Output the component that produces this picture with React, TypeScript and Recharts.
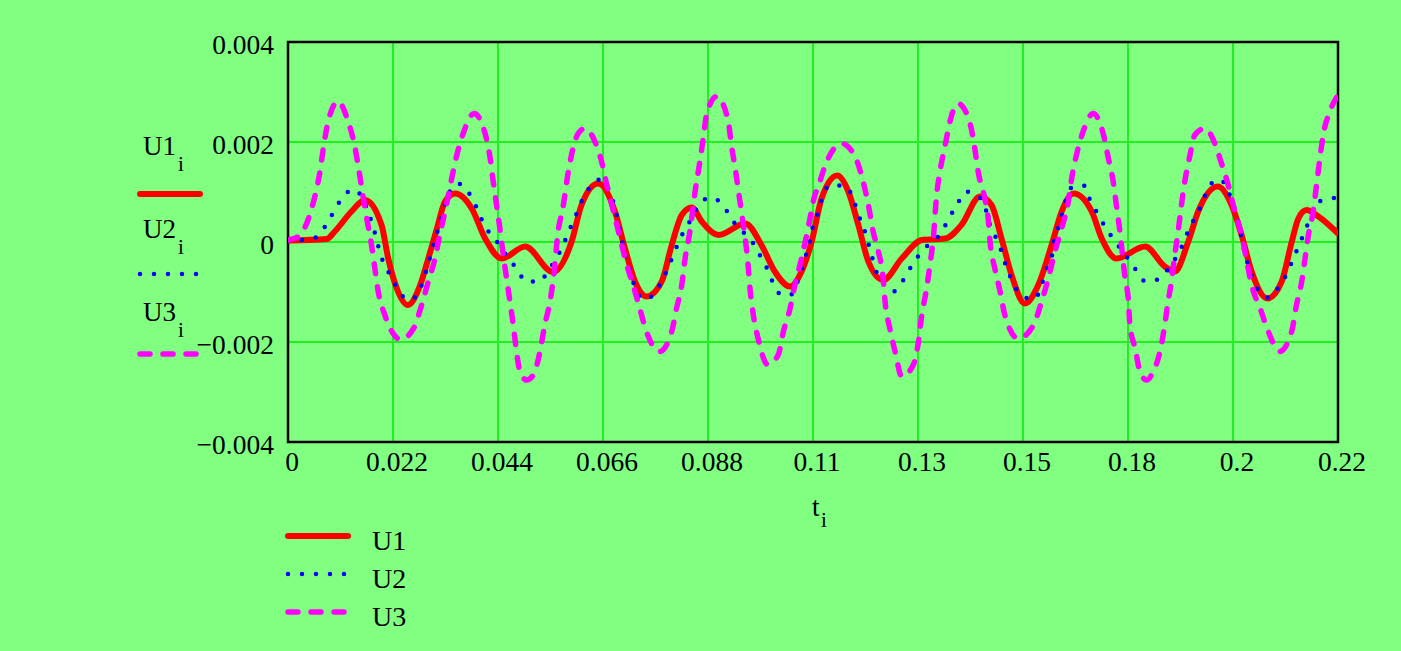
import React from 'react';
import { LineChart, Line, XAxis, YAxis, CartesianGrid, ReferenceArea } from 'recharts';

// time axis ticks and labels (as printed on the chart)
const X_TICKS = [0, 0.022, 0.044, 0.066, 0.088, 0.11, 0.132, 0.154, 0.176, 0.198, 0.22];
const X_TICK_LABELS = ['0', '0.022', '0.044', '0.066', '0.088', '0.11', '0.13', '0.15', '0.18', '0.2', '0.22'];
const Y_TICKS = [-0.004, -0.002, 0, 0.002, 0.004];
const Y_TICK_LABELS = ['\u22120.004', '\u22120.002', '0', '0.002', '0.004'];

// series values: [t (s), value (x 1e-3)]
const VALUE_UNIT = 0.001;

const U1: [number, number][] = [
  [0, 0.03], [0.0081, 0.06], [0.0098, 0.21], [0.0133, 0.61], [0.0161, 0.84], [0.0196, 0.34],
  [0.021, -0.33], [0.0228, -0.93], [0.0251, -1.26], [0.0277, -0.86], [0.0294, -0.33], [0.0312, 0.27],
  [0.0329, 0.81], [0.035, 0.97], [0.0385, 0.67], [0.0413, 0.07], [0.0448, -0.33], [0.0497, -0.09],
  [0.0555, -0.6], [0.0594, 0], [0.0615, 0.74], [0.065, 1.17], [0.0685, 0.61], [0.0706, -0.13],
  [0.0727, -0.79], [0.0751, -1.09], [0.0783, -0.79], [0.0804, -0.06], [0.0825, 0.54], [0.0846, 0.69],
  [0.0867, 0.41], [0.0902, 0.14], [0.0958, 0.37], [0.0992, -0.06], [0.102, -0.59], [0.1052, -0.89],
  [0.1076, -0.59], [0.1097, 0], [0.1118, 0.87], [0.1151, 1.33], [0.1174, 1.01], [0.1195, 0.34],
  [0.1216, -0.39], [0.1247, -0.76], [0.1286, -0.33], [0.1328, 0.04], [0.1377, 0.07], [0.1411, 0.34],
  [0.145, 0.91], [0.1474, 0.74], [0.1495, 0.07], [0.1516, -0.66], [0.1544, -1.23], [0.1572, -0.86],
  [0.16, -0.06], [0.1621, 0.61], [0.1646, 0.97], [0.1684, 0.61], [0.1705, 0.07], [0.1736, -0.33],
  [0.1796, -0.09], [0.1837, -0.49], [0.1858, -0.59], [0.1886, 0], [0.1907, 0.61], [0.1948, 1.11],
  [0.1977, 0.74], [0.1998, 0.14], [0.2019, -0.59], [0.2052, -1.13], [0.2082, -0.79], [0.2103, 0],
  [0.2117, 0.47], [0.2134, 0.64], [0.2159, 0.51], [0.22, 0.17],
];

const U2: [number, number][] = [
  [0, 0.02], [0.0029, 0.04], [0.0058, 0.09], [0.0079, 0.33], [0.0096, 0.61], [0.0114, 0.89],
  [0.0138, 1.05], [0.0159, 0.82], [0.018, 0.25], [0.0196, -0.31], [0.021, -0.59], [0.0226, -0.87],
  [0.0243, -1.11], [0.0256, -1.16], [0.0272, -1.03], [0.0284, -0.75], [0.0301, -0.19], [0.0318, 0.37],
  [0.0335, 0.93], [0.0356, 1.17], [0.0377, 1.01], [0.0393, 0.73], [0.0406, 0.45], [0.0423, 0.17],
  [0.0444, -0.07], [0.046, -0.31], [0.0481, -0.55], [0.0498, -0.79], [0.0527, -0.79], [0.0544, -0.59],
  [0.0578, -0.03], [0.059, 0.25], [0.0603, 0.53], [0.0615, 0.81], [0.0632, 1.09], [0.0653, 1.25],
  [0.0674, 1.01], [0.0691, 0.45], [0.0703, -0.11], [0.072, -0.67], [0.0728, -0.95], [0.0749, -1.15],
  [0.077, -0.99], [0.0787, -0.71], [0.08, -0.43], [0.0812, -0.15], [0.0825, 0.13], [0.0842, 0.41],
  [0.0858, 0.69], [0.0883, 0.89], [0.0909, 0.77], [0.0925, 0.53], [0.0946, 0.25], [0.0967, 0.09],
  [0.0984, -0.19], [0.1001, -0.47], [0.1013, -0.75], [0.103, -1.03], [0.1051, -1.07], [0.1076, -0.55],
  [0.1085, -0.27], [0.1093, 0], [0.1099, 0.29], [0.111, 0.57], [0.1118, 0.85], [0.1135, 1.13],
  [0.1164, 1.13], [0.1185, 0.85], [0.1194, 0.57], [0.1206, 0.29], [0.1215, 0], [0.1223, -0.27],
  [0.1231, -0.55], [0.1248, -0.83], [0.1269, -0.99], [0.129, -0.75], [0.1307, -0.47], [0.1328, -0.19],
  [0.137, 0.21], [0.1386, 0.49], [0.1403, 0.77], [0.142, 1.01], [0.1445, 0.93], [0.1462, 0.65],
  [0.147, 0.37], [0.1483, 0.09], [0.1495, -0.19], [0.1504, -0.47], [0.1516, -0.75], [0.1533, -1.03],
  [0.1562, -1.15], [0.1579, -0.87], [0.1587, -0.59], [0.16, -0.31], [0.1604, -0.03], [0.1613, 0.25],
  [0.1621, 0.53], [0.1629, 0.81], [0.1642, 1.09], [0.1667, 1.13], [0.168, 0.85], [0.1696, 0.57],
  [0.1713, 0.29], [0.1734, 0], [0.1755, -0.27], [0.1776, -0.55], [0.1797, -0.79], [0.1822, -0.75],
  [0.1843, -0.55], [0.1877, 0], [0.1889, 0.29], [0.1906, 0.57], [0.1918, 0.85], [0.1931, 1.13],
  [0.1952, 1.25], [0.1981, 0.73], [0.199, 0.45], [0.2002, -0.11], [0.2019, -0.67], [0.2053, -1.11],
  [0.2078, -0.87], [0.2095, -0.59], [0.2107, -0.31], [0.212, -0.03], [0.2132, 0.25], [0.2161, 0.81],
  [0.22, 0.89],
];

const U3: [number, number][] = [
  [0, 0.04], [0.0022, 0.11], [0.0043, 0.47], [0.0057, 0.94], [0.0067, 1.41], [0.0074, 1.87],
  [0.0084, 2.41], [0.0105, 2.81], [0.0126, 2.41], [0.014, 1.91], [0.0149, 1.41], [0.0158, 0.87],
  [0.0165, 0.47], [0.0174, 0], [0.0181, -0.46], [0.0189, -0.99], [0.0203, -1.46], [0.0236, -1.95],
  [0.0263, -1.73], [0.028, -1.26], [0.0294, -0.79], [0.0308, -0.33], [0.0318, 0.14], [0.0332, 0.74],
  [0.0343, 1.27], [0.0353, 1.71], [0.0367, 2.17], [0.039, 2.57], [0.0413, 2.17], [0.0423, 1.71],
  [0.043, 1.21], [0.0437, 0.74], [0.0444, 0.27], [0.0451, -0.26], [0.0458, -0.73], [0.0465, -1.19],
  [0.0472, -1.66], [0.0478, -2.13], [0.0486, -2.59], [0.05, -2.76], [0.0514, -2.66], [0.0528, -2.19],
  [0.0538, -1.66], [0.0549, -1.19], [0.0556, -0.73], [0.0566, 0.21], [0.0577, 0.74], [0.0584, 1.21],
  [0.0594, 1.74], [0.0608, 2.17], [0.0622, 2.27], [0.0643, 2.01], [0.0657, 1.61], [0.0668, 1.14],
  [0.0682, 0.61], [0.0696, 0.07], [0.071, -0.46], [0.0723, -0.86], [0.0737, -1.33], [0.0751, -1.79],
  [0.0779, -2.19], [0.0804, -1.79], [0.0814, -1.33], [0.0825, -0.86], [0.0832, -0.33], [0.0842, 0.21],
  [0.0853, 1.01], [0.0863, 1.61], [0.087, 2.07], [0.0877, 2.54], [0.0898, 2.91], [0.0922, 2.44],
  [0.0929, 1.94], [0.0937, 1.47], [0.0944, 1.01], [0.0951, 0.54], [0.0958, 0.07], [0.0964, -0.46],
  [0.0968, -0.93], [0.0975, -1.46], [0.0985, -1.93], [0.1005, -2.45], [0.1027, -2.26], [0.1038, -1.79],
  [0.1052, -1.33], [0.1062, -0.86], [0.1076, -0.33], [0.1091, 0.34], [0.1102, 0.87], [0.1112, 1.14],
  [0.1126, 1.54], [0.116, 1.97], [0.1188, 1.71], [0.1205, 1.21], [0.1216, 0.74], [0.1226, 0.21],
  [0.1237, -0.19], [0.1247, -0.73], [0.1251, -1.19], [0.1261, -1.73], [0.1272, -2.19], [0.1286, -2.69],
  [0.131, -2.46], [0.1321, -1.99], [0.1328, -1.46], [0.1338, -0.93], [0.1345, -0.46], [0.1352, 0.07],
  [0.1359, 0.94], [0.1366, 1.41], [0.1377, 1.94], [0.1387, 2.41], [0.1404, 2.77], [0.1429, 2.37],
  [0.1439, 1.87], [0.1446, 1.41], [0.146, 0.87], [0.1467, 0.47], [0.1471, 0], [0.1481, -0.53],
  [0.1492, -0.99], [0.1502, -1.46], [0.153, -1.93], [0.1562, -1.66], [0.1579, -1.19], [0.1593, -0.73],
  [0.1607, -0.19], [0.1621, 0.27], [0.1635, 0.81], [0.1642, 1.27], [0.1652, 1.74], [0.1666, 2.21],
  [0.1687, 2.57], [0.1708, 2.17], [0.1719, 1.67], [0.1729, 1.21], [0.1736, 0.71], [0.1743, 0.21],
  [0.1754, -0.73], [0.1761, -1.19], [0.1764, -1.66], [0.1775, -2.13], [0.1785, -2.59], [0.1799, -2.76],
  [0.1813, -2.59], [0.1827, -2.19], [0.1837, -1.66], [0.1844, -1.19], [0.1851, -0.79], [0.1858, -0.26],
  [0.1865, 0.21], [0.1872, 0.74], [0.1879, 1.21], [0.189, 1.74], [0.19, 2.14], [0.1921, 2.27],
  [0.1942, 1.97], [0.1956, 1.57], [0.197, 1.14], [0.1984, 0.61], [0.1998, 0.14], [0.2009, -0.39],
  [0.2019, -0.86], [0.2037, -1.33], [0.2054, -1.79], [0.2078, -2.19], [0.2103, -1.79], [0.2113, -1.26],
  [0.2124, -0.79], [0.2131, -0.33], [0.2138, 0.14], [0.2148, 0.61], [0.2155, 1.14], [0.2162, 1.67],
  [0.2169, 2.14], [0.2183, 2.61], [0.22, 2.94],
];

const SERIES_NAMES = ['U1', 'U2', 'U3'];

const toData = (arr: [number, number][]) => arr.map(([t, v]) => ({ t, v: v * VALUE_UNIT }));
const d1 = toData(U1);
const d2 = toData(U2);
const d3 = toData(U3);

const FONT = "'Liberation Serif', 'Times New Roman', serif";
const BG = '#80FF80';
const GRID = '#22EE22';
const RED = '#FF0000';
const BLUE = '#0000FF';
const MAGENTA = '#FF00FF';

const nearestIndex = (arr: number[], v: number) => {
  let best = 0;
  for (let i = 1; i < arr.length; i++) if (Math.abs(arr[i] - v) < Math.abs(arr[best] - v)) best = i;
  return best;
};

const XTick = (props: any) => {
  const { x, y, payload } = props;
  const label = X_TICK_LABELS[nearestIndex(X_TICKS, payload.value)];
  return (
    <text x={x + 4} y={y + 21} textAnchor="middle" fontSize={27.5} fontFamily={FONT} fill="#000">
      {label}
    </text>
  );
};

const YTick = (props: any) => {
  const { x, y, payload } = props;
  const label = Y_TICK_LABELS[nearestIndex(Y_TICKS, payload.value)];
  return (
    <text x={x - 6} y={y + 12} textAnchor="end" fontSize={27.5} fontFamily={FONT} fill="#000">
      {label}
    </text>
  );
};

const styles = [
  { color: RED, width: 6, dash: undefined as string | undefined },
  { color: BLUE, width: 4.5, dash: '0 14' },
  { color: MAGENTA, width: 5.5, dash: '10 13' },
];

export default function App() {
  return (
    <div
      style={{
        position: 'absolute',
        left: 0,
        top: 0,
        width: 1401,
        height: 651,
        background: BG,
        fontFamily: FONT,
      }}
    >
      <LineChart width={1401} height={651} margin={{ top: 42, right: 63, bottom: 179, left: 208 }}>
        <CartesianGrid stroke={GRID} strokeWidth={2} fill="none" />
        <XAxis
          dataKey="t"
          type="number"
          domain={[0, 0.22]}
          ticks={X_TICKS}
          tick={<XTick />}
          axisLine={false}
          tickLine={false}
          height={30}
          allowDataOverflow
          interval={0}
        />
        <YAxis
          type="number"
          domain={[-0.004, 0.004]}
          ticks={Y_TICKS}
          tick={<YTick />}
          axisLine={false}
          tickLine={false}
          width={80}
          allowDataOverflow
          interval={0}
        />
        <ReferenceArea
          x1={0}
          x2={0.22}
          y1={-0.004}
          y2={0.004}
          fill="none"
          fillOpacity={0}
          stroke="#000"
          strokeWidth={2.5}
        />
        <Line
          data={d1}
          dataKey="v"
          name={SERIES_NAMES[0]}
          type="monotone"
          stroke={RED}
          strokeWidth={styles[0].width}
          strokeLinecap="round"
          strokeLinejoin="round"
          dot={false}
          activeDot={false}
          isAnimationActive={false}
        />
        <Line
          data={d2}
          dataKey="v"
          name={SERIES_NAMES[1]}
          type="monotone"
          stroke={BLUE}
          strokeWidth={styles[1].width}
          strokeDasharray={styles[1].dash}
          strokeLinecap="round"
          dot={false}
          activeDot={false}
          isAnimationActive={false}
        />
        <Line
          data={d3}
          dataKey="v"
          name={SERIES_NAMES[2]}
          type="monotone"
          stroke={MAGENTA}
          strokeWidth={styles[2].width}
          strokeDasharray={styles[2].dash}
          strokeLinecap="round"
          dot={false}
          activeDot={false}
          isAnimationActive={false}
        />
      </LineChart>
      <svg
        width={1401}
        height={651}
        style={{ position: 'absolute', left: 0, top: 0, pointerEvents: 'none' }}
        fontFamily={FONT}
      >
        {/* y-axis stacked labels */}
        {[0, 1, 2].map((i) => {
          const base = 155 + i * 83;
          const lineY = 194 + i * 80;
          return (
            <g key={i}>
              <text x={143} y={base} fontSize={27} fill="#000">
                {SERIES_NAMES[i]}
              </text>
              <text x={178} y={base + 16} fontSize={21} fill="#000">
                i
              </text>
              <line
                x1={140}
                x2={i === 1 ? 196.01 : 200}
                y1={lineY}
                y2={lineY}
                stroke={styles[i].color}
                strokeWidth={styles[i].width}
                strokeDasharray={styles[i].dash}
                strokeLinecap="round"
              />
            </g>
          );
        })}
        {/* x-axis label */}
        <text x={812} y={516} fontSize={27} fill="#000">
          t
        </text>
        <text x={821} y={527} fontSize={21} fill="#000">
          i
        </text>
        {/* bottom legend */}
        {[0, 1, 2].map((i) => {
          const y = 536 + i * 38;
          return (
            <g key={'lg' + i}>
              <line
                x1={288}
                x2={i === 1 ? 344.01 : 348}
                y1={y}
                y2={y}
                stroke={styles[i].color}
                strokeWidth={styles[i].width}
                strokeDasharray={styles[i].dash}
                strokeLinecap="round"
              />
              <text x={372} y={y + 14} fontSize={28} fill="#000">
                {SERIES_NAMES[i]}
              </text>
            </g>
          );
        })}
      </svg>
    </div>
  );
}
